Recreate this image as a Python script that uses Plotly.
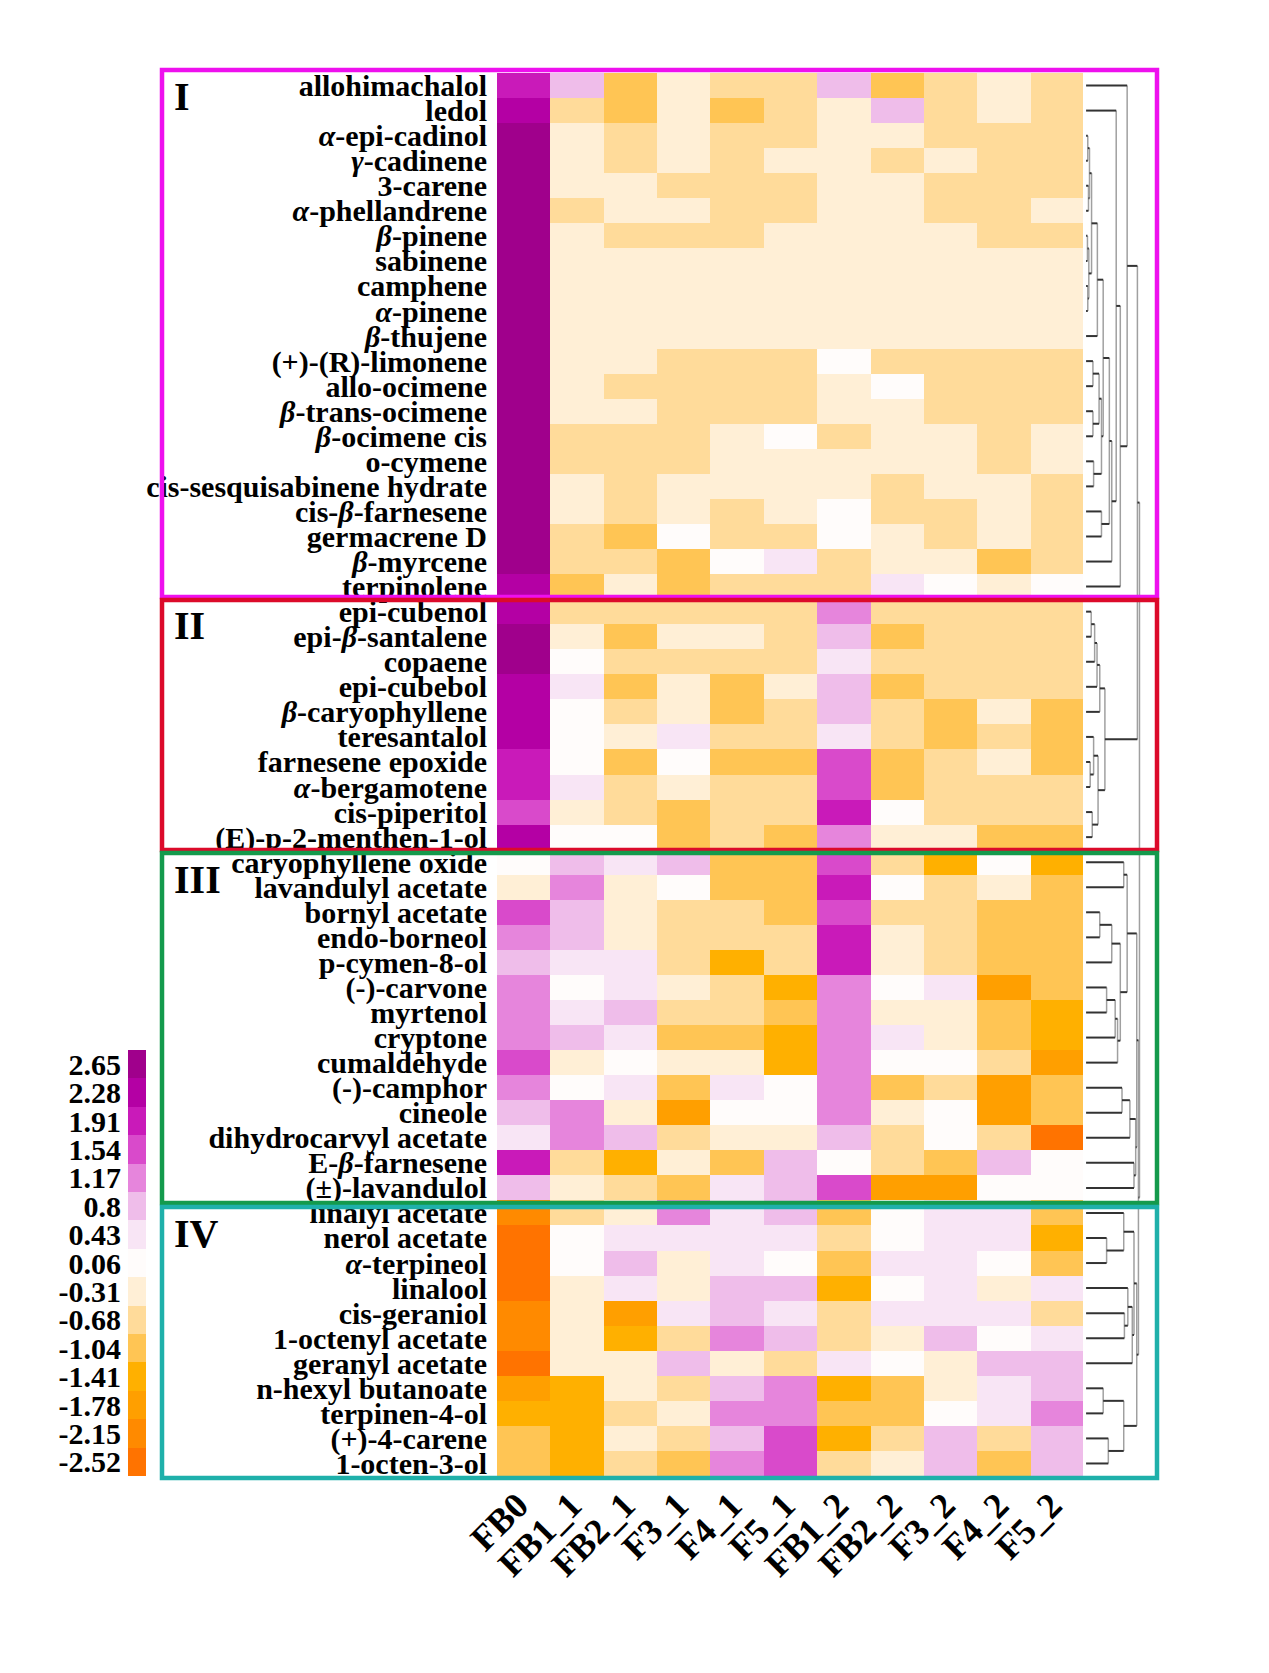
import plotly.graph_objects as go

W, H = 1269, 1673
FONT = "Liberation Serif"

samples = ["FB0", "FB1_1", "FB2_1", "F3_1", "F4_1", "F5_1",
           "FB1_2", "FB2_2", "F3_2", "F4_2", "F5_2"]

compounds_I = [
    "allohimachalol", "ledol", "<i>α</i>-epi-cadinol", "<i>γ</i>-cadinene", "3-carene",
    "<i>α</i>-phellandrene", "<i>β</i>-pinene", "sabinene", "camphene", "<i>α</i>-pinene",
    "<i>β</i>-thujene", "(+)-(R)-limonene", "allo-ocimene", "<i>β</i>-trans-ocimene",
    "<i>β</i>-ocimene cis", "o-cymene", "cis-sesquisabinene hydrate", "cis-<i>β</i>-farnesene",
    "germacrene D", "<i>β</i>-myrcene", "terpinolene",
]
compounds_II = [
    "epi-cubenol", "epi-<i>β</i>-santalene", "copaene", "epi-cubebol", "<i>β</i>-caryophyllene",
    "teresantalol", "farnesene epoxide", "<i>α</i>-bergamotene", "cis-piperitol",
    "(E)-p-2-menthen-1-ol",
]
compounds_III = [
    "caryophyllene oxide", "lavandulyl acetate", "bornyl acetate", "endo-borneol",
    "p-cymen-8-ol", "(-)-carvone", "myrtenol", "cryptone", "cumaldehyde", "(-)-camphor",
    "cineole", "dihydrocarvyl acetate", "E-<i>β</i>-farnesene", "(±)-lavandulol",
]
compounds_IV = [
    "linalyl acetate", "nerol acetate", "<i>α</i>-terpineol", "linalool", "cis-geraniol",
    "1-octenyl acetate", "geranyl acetate", "n-hexyl butanoate", "terpinen-4-ol",
    "(+)-4-carene", "1-octen-3-ol",
]

z_I = [
    [1.91, 0.8, -1.04, -0.31, -0.68, -0.68, 0.8, -1.04, -0.68, -0.31, -0.68],
    [2.28, -0.68, -1.04, -0.31, -1.04, -0.68, -0.31, 0.8, -0.68, -0.31, -0.68],
    [2.65, -0.31, -0.68, -0.31, -0.68, -0.68, -0.31, -0.31, -0.68, -0.68, -0.68],
    [2.65, -0.31, -0.68, -0.31, -0.68, -0.31, -0.31, -0.68, -0.31, -0.68, -0.68],
    [2.65, -0.31, -0.31, -0.68, -0.68, -0.68, -0.31, -0.31, -0.68, -0.68, -0.68],
    [2.65, -0.68, -0.31, -0.31, -0.68, -0.68, -0.31, -0.31, -0.68, -0.68, -0.31],
    [2.65, -0.31, -0.68, -0.68, -0.68, -0.31, -0.31, -0.31, -0.31, -0.68, -0.68],
    [2.65, -0.31, -0.31, -0.31, -0.31, -0.31, -0.31, -0.31, -0.31, -0.31, -0.31],
    [2.65, -0.31, -0.31, -0.31, -0.31, -0.31, -0.31, -0.31, -0.31, -0.31, -0.31],
    [2.65, -0.31, -0.31, -0.31, -0.31, -0.31, -0.31, -0.31, -0.31, -0.31, -0.31],
    [2.65, -0.31, -0.31, -0.31, -0.31, -0.31, -0.31, -0.31, -0.31, -0.31, -0.31],
    [2.65, -0.31, -0.31, -0.68, -0.68, -0.68, 0.06, -0.68, -0.68, -0.68, -0.68],
    [2.65, -0.31, -0.68, -0.68, -0.68, -0.68, -0.31, 0.06, -0.68, -0.68, -0.68],
    [2.65, -0.31, -0.31, -0.68, -0.68, -0.68, -0.31, -0.31, -0.68, -0.68, -0.68],
    [2.65, -0.68, -0.68, -0.68, -0.31, 0.06, -0.68, -0.31, -0.31, -0.68, -0.31],
    [2.65, -0.68, -0.68, -0.68, -0.31, -0.31, -0.31, -0.31, -0.31, -0.68, -0.31],
    [2.65, -0.31, -0.68, -0.31, -0.31, -0.31, -0.31, -0.68, -0.31, -0.31, -0.68],
    [2.65, -0.31, -0.68, -0.31, -0.68, -0.31, 0.06, -0.68, -0.68, -0.31, -0.68],
    [2.65, -0.68, -1.04, 0.06, -0.68, -0.68, 0.06, -0.31, -0.68, -0.31, -0.68],
    [2.65, -0.68, -0.68, -1.04, 0.06, 0.43, -0.68, -0.31, -0.31, -1.04, -0.68],
    [2.28, -1.04, -0.31, -1.04, -0.68, -0.68, -0.68, 0.43, 0.06, -0.31, 0.06],
]
z_II = [
    [2.28, -0.68, -0.68, -0.68, -0.68, -0.68, 1.17, -0.68, -0.68, -0.68, -0.68],
    [2.65, -0.31, -1.04, -0.31, -0.31, -0.68, 0.8, -1.04, -0.68, -0.68, -0.68],
    [2.65, 0.06, -0.68, -0.68, -0.68, -0.68, 0.43, -0.68, -0.68, -0.68, -0.68],
    [2.28, 0.43, -1.04, -0.31, -1.04, -0.31, 0.8, -1.04, -0.68, -0.68, -0.68],
    [2.28, 0.06, -0.68, -0.31, -1.04, -0.68, 0.8, -0.68, -1.04, -0.31, -1.04],
    [2.28, 0.06, -0.31, 0.43, -0.68, -0.68, 0.43, -0.68, -1.04, -0.68, -1.04],
    [1.91, 0.06, -1.04, 0.06, -1.04, -1.04, 1.54, -1.04, -0.68, -0.31, -1.04],
    [1.91, 0.43, -0.68, -0.31, -0.68, -0.68, 1.54, -1.04, -0.68, -0.68, -0.68],
    [1.54, -0.31, -0.68, -1.04, -0.68, -0.68, 1.91, 0.06, -0.68, -0.68, -0.68],
    [2.28, 0.06, 0.06, -1.04, -0.68, -1.04, 1.17, -0.31, -0.31, -1.04, -1.04],
]
z_III = [
    [0.06, 0.8, 0.43, 0.8, -1.04, -1.04, 1.54, -0.68, -1.41, 0.06, -1.41],
    [-0.31, 1.17, -0.31, 0.06, -1.04, -1.04, 1.91, 0.06, -0.68, -0.31, -1.04],
    [1.54, 0.8, -0.31, -0.68, -0.68, -1.04, 1.54, -0.68, -0.68, -1.04, -1.04],
    [1.17, 0.8, -0.31, -0.68, -0.68, -0.68, 1.91, -0.31, -0.68, -1.04, -1.04],
    [0.8, 0.43, 0.43, -0.68, -1.41, -0.68, 1.91, -0.31, -0.68, -1.04, -1.04],
    [1.17, 0.06, 0.43, -0.31, -0.68, -1.41, 1.17, 0.06, 0.43, -1.78, -1.04],
    [1.17, 0.43, 0.8, -0.68, -0.68, -1.04, 1.17, -0.31, -0.31, -1.04, -1.41],
    [1.17, 0.8, 0.43, -1.04, -1.04, -1.41, 1.17, 0.43, -0.31, -1.04, -1.41],
    [1.54, -0.31, 0.06, -0.31, -0.31, -1.41, 1.17, 0.06, 0.06, -0.68, -1.78],
    [1.17, 0.06, 0.43, -1.04, 0.43, 0.06, 1.17, -1.04, -0.68, -1.78, -1.04],
    [0.8, 1.17, -0.31, -1.78, 0.06, 0.06, 1.17, -0.31, 0.06, -1.78, -1.04],
    [0.43, 1.17, 0.8, -0.68, -0.31, -0.31, 0.8, -0.68, 0.06, -0.68, -2.52],
    [1.91, -0.68, -1.41, -0.31, -1.04, 0.8, 0.06, -0.68, -1.04, 0.8, 0.06],
    [0.8, -0.31, -0.68, -1.04, 0.43, 0.8, 1.54, -1.78, -1.78, 0.06, 0.06],
]
z_IV = [
    [-2.15, -0.68, -0.31, 1.17, 0.43, 0.8, -1.04, 0.06, 0.43, 0.43, -1.04],
    [-2.52, 0.06, 0.43, 0.43, 0.43, 0.43, -0.68, 0.06, 0.43, 0.43, -1.41],
    [-2.52, 0.06, 0.8, -0.31, 0.43, 0.06, -1.04, 0.43, 0.43, 0.06, -1.04],
    [-2.52, -0.31, 0.43, -0.31, 0.8, 0.8, -1.41, 0.06, 0.43, -0.31, 0.43],
    [-2.15, -0.31, -1.78, 0.43, 0.8, 0.43, -0.68, 0.43, 0.43, 0.43, -0.68],
    [-2.15, -0.31, -1.41, -0.68, 1.17, 0.8, -0.68, -0.31, 0.8, 0.06, 0.43],
    [-2.52, -0.31, -0.31, 0.8, -0.31, -0.68, 0.43, 0.06, -0.31, 0.8, 0.8],
    [-1.78, -1.41, -0.31, -0.68, 0.8, 1.17, -1.41, -1.04, -0.31, 0.43, 0.8],
    [-1.41, -1.41, -0.68, -0.31, 1.17, 1.17, -1.04, -1.04, 0.06, 0.43, 1.17],
    [-1.04, -1.41, -0.31, -0.68, 0.8, 1.54, -1.41, -0.68, 0.8, -0.68, 0.8],
    [-1.04, -1.41, -0.68, -1.04, 1.17, 1.54, -0.68, -0.31, 0.8, -1.04, 0.8],
]

# colour key: bin centres (low -> high) and their colours
levels = [-2.52, -2.15, -1.78, -1.41, -1.04, -0.68, -0.31, 0.06,
          0.43, 0.8, 1.17, 1.54, 1.91, 2.28, 2.65]
level_labels = ["-2.52", "-2.15", "-1.78", "-1.41", "-1.04", "-0.68", "-0.31", "0.06",
                "0.43", "0.8", "1.17", "1.54", "1.91", "2.28", "2.65"]
level_colors = ["#FF7300", "#FF8A00", "#FF9F00", "#FFB000", "#FFC554", "#FFDB9A",
                "#FFEFD6", "#FFFCFB", "#F8E5F5", "#EFBDEA", "#E685DC", "#D94ACB",
                "#C91AB9", "#B400A4", "#A0008C"]

# row dendrogram: (left, right, height); ints are row indices
t_2_9 = (((2, 3, 5), (4, 5, 7), 10), ((6, 7, 4), (8, 9, 5), 8), 16)
t_11_16 = (((11, 12, 20), (13, 14, 20), 38), (15, 16, 22), 45)
t_2_19 = ((((t_2_9, 10, 33), t_11_16, 50), (17, 18, 45), 68), 19, 75)
dendro_I = (0, ((1, t_2_19, 88), 20, 100), 120)
dendro_II = (((((21, 22, 15), 23, 25), 24, 32), 25, 40),
             ((26, (27, 28, 12), 22), (29, 30, 18), 35), 55)
dendro_III = (((((33, 34, 40), 35, 75), (((36, 37, 60), 38, 85), 39, 92), 100), (31, 32, 110), 120),
              (((40, 41, 105), 42, 128), (43, 44, 140), 145), 148)
dendro_IV = (((45, (46, 47, 60), 110), ((48, (49, 50, 112), 122), 51, 135), 140),
             ((52, 53, 50), (54, 55, 65), 110), 148)
dendro_root = ((dendro_I, dendro_II, 150), (dendro_III, dendro_IV, 153), 156)

compounds = compounds_I + compounds_II + compounds_III + compounds_IV
z = z_I + z_II + z_III + z_IV
n_rows = len(compounds)

# pixel layout
HM_X0, HM_X1, HM_Y0, HM_Y1 = 497, 1084, 73, 1476
CB_X0, CB_X1, CB_Y0, CB_Y1 = 128, 146, 1050, 1476
DG_X0, DG_X1 = 1083, 1160


def px(x):
    return x / W


def py(y):
    return 1 - y / H


step = (levels[-1] - levels[0]) / (len(levels) - 1)
zmin, zmax = levels[0] - step / 2, levels[-1] + step / 2
nb = len(level_colors)
colorscale = []
for k, c in enumerate(level_colors):
    colorscale += [[k / nb, c], [(k + 1) / nb, c]]

fig = go.Figure()

fig.add_trace(go.Heatmap(
    z=z, x=samples, y=list(range(n_rows)),
    colorscale=colorscale, zmin=zmin, zmax=zmax, showscale=False,
    xaxis="x", yaxis="y", hoverongaps=False,
))

fig.add_trace(go.Heatmap(
    z=[[v] for v in levels], x=[0], y=list(range(len(levels))),
    colorscale=colorscale, zmin=zmin, zmax=zmax, showscale=False,
    xaxis="x2", yaxis="y2",
))


def walk(node, hx, hy, vx, vy):
    if isinstance(node, int):
        return node, 0.0
    left, right, h = node
    yl, xl = walk(left, hx, hy, vx, vy)
    yr, xr = walk(right, hx, hy, vx, vy)
    hx += [xl, h, None, xr, h, None]
    hy += [yl, yl, None, yr, yr, None]
    vx += [h, h, None]
    vy += [yl, yr, None]
    return (yl + yr) / 2, h


hx, hy, vx, vy = [], [], [], []
walk(dendro_root, hx, hy, vx, vy)
fig.add_trace(go.Scatter(x=vx, y=vy, mode="lines", line=dict(color="#a0a0a0", width=1.5),
                         xaxis="x3", yaxis="y3", hoverinfo="skip"))
fig.add_trace(go.Scatter(x=hx, y=hy, mode="lines", line=dict(color="#333333", width=2),
                         xaxis="x3", yaxis="y3", hoverinfo="skip"))

tick_font = dict(family=FONT, size=30, color="black", weight="bold")
hm_ydom = [py(HM_Y1), py(HM_Y0)]

fig.update_layout(
    width=W, height=H,
    margin=dict(l=0, r=0, t=0, b=0, autoexpand=False),
    paper_bgcolor="white", plot_bgcolor="white",
    showlegend=False,
    xaxis=dict(domain=[px(HM_X0), px(HM_X1)], tickangle=-45,
               tickfont=dict(family=FONT, size=36, color="black", weight="bold"),
               showgrid=False, zeroline=False, ticks="", ticklabelstandoff=0,
               ticklabelshift=-6),
    yaxis=dict(domain=hm_ydom, range=[n_rows - 0.5, -0.5], tickvals=list(range(n_rows)),
               ticktext=compounds, tickfont=tick_font, showgrid=False, zeroline=False,
               ticks="", ticklabelstandoff=9),
    xaxis2=dict(domain=[px(CB_X0), px(CB_X1)], anchor="y2", visible=False),
    yaxis2=dict(domain=[py(CB_Y1), py(CB_Y0)], anchor="x2", range=[-0.5, len(levels) - 0.5],
                tickvals=list(range(len(levels))), ticktext=level_labels, tickfont=tick_font,
                showgrid=False, zeroline=False, ticks="", ticklabelstandoff=6),
    xaxis3=dict(domain=[px(DG_X0), px(DG_X1)], anchor="y3", range=[-9, 216], visible=False),
    yaxis3=dict(domain=hm_ydom, anchor="x3", range=[n_rows - 0.5, -0.5], visible=False),
)

# cluster boxes and roman numerals
boxes = [("I", "#EE10EE", 70, 597), ("II", "#DC0A2A", 600, 850),
         ("III", "#149A4C", 853, 1203), ("IV", "#1FB0AA", 1207, 1478)]
for name, color, y0, y1 in boxes:
    fig.add_shape(type="rect", xref="paper", yref="paper",
                  x0=px(162), x1=px(1157), y0=py(y1), y1=py(y0),
                  line=dict(color=color, width=4.5), fillcolor="rgba(0,0,0,0)")
    fig.add_annotation(text=name, xref="paper", yref="paper", x=px(172), y=py(y0 + 26),
                       xanchor="left", yanchor="middle", showarrow=False,
                       font=dict(family=FONT, size=40, color="black", weight="bold"))

fig.write_html("out.html", config={"displayModeBar": False},
               post_script="document.body.style.margin='0';")
